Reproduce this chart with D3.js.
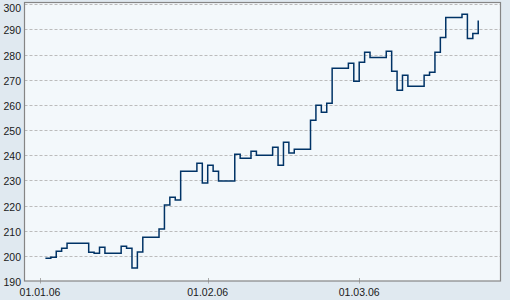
<!DOCTYPE html>
<html><head><meta charset="utf-8">
<script src="https://cdn.jsdelivr.net/npm/d3@7"></script>
<style>
html,body{margin:0;padding:0;background:#e0e9f0;}
svg{display:block;}
text{font-family:"Liberation Sans",Arial,sans-serif;font-size:10.5px;fill:#1a1a1a;}
</style></head>
<body>
<svg id="c" width="510" height="300"></svg>
<script>
const dates = ["2006-01-02","2006-01-03","2006-01-04","2006-01-05","2006-01-06",
"2006-01-09","2006-01-10","2006-01-11","2006-01-12","2006-01-13",
"2006-01-16","2006-01-17","2006-01-18","2006-01-19","2006-01-20",
"2006-01-23","2006-01-24","2006-01-25","2006-01-26","2006-01-27",
"2006-01-30","2006-01-31","2006-02-01","2006-02-02","2006-02-03",
"2006-02-06","2006-02-07","2006-02-08","2006-02-09","2006-02-10",
"2006-02-13","2006-02-14","2006-02-15","2006-02-16","2006-02-17",
"2006-02-20","2006-02-21","2006-02-22","2006-02-23","2006-02-24",
"2006-02-27","2006-02-28","2006-03-01","2006-03-02","2006-03-03",
"2006-03-06","2006-03-07","2006-03-08","2006-03-09","2006-03-10",
"2006-03-13","2006-03-14","2006-03-15","2006-03-16","2006-03-17",
"2006-03-20","2006-03-21","2006-03-22","2006-03-23"];
const values = [199.0,199.4,201.8,203.0,205.0,
205.0,201.4,201.0,203.4,201.0,
203.8,203.0,195.2,201.5,207.4,
210.7,220.2,223.3,222.2,233.6,
236.8,229.0,236.0,233.6,229.8,
240.4,238.8,238.8,241.6,240.0,
243.2,236.0,245.2,240.9,242.4,
253.9,259.9,257.1,260.7,274.6,
276.6,269.4,277.0,280.9,278.9,
281.3,273.4,265.8,271.8,267.4,
271.8,273.0,280.9,286.8,294.8,
296.0,286.4,288.4,293.6];
const yTicks = [190,200,210,220,230,240,250,260,270,280,290,300];
const xTicks = ["2006-01-01","2006-02-01","2006-03-01"];

const svg = d3.select("#c");
const L = 24.5, R = 500.5, T = 2.5, B = 281;
const parse = d3.utcParse("%Y-%m-%d");
const fmt = d3.utcFormat("%d.%m.%y");
const x = d3.scaleUtc().domain([parse("2006-01-01"), parse("2006-03-01")]).range([40, 359.2]);
const y = d3.scaleLinear().domain([190, 300]).range([281, 4.3]);

svg.append("rect").attr("x",0).attr("y",0).attr("width",510).attr("height",300).attr("fill","#e0e9f0");
svg.append("rect").attr("x",L).attr("y",T).attr("width",R-L).attr("height",B-T).attr("fill","#f3f8fb");

// gridlines
svg.append("g").selectAll("line").data(yTicks.filter(v=>v>190)).join("line")
  .attr("x1",L).attr("x2",R)
  .attr("y1",d=>Math.round(y(d))+0.5).attr("y2",d=>Math.round(y(d))+0.5)
  .attr("stroke","#bcbcbc").attr("stroke-width",1).attr("stroke-dasharray","3,2");

// x ticks
svg.append("g").selectAll("line").data(xTicks).join("line")
  .attr("x1",d=>Math.round(x(parse(d)))+0.5).attr("x2",d=>Math.round(x(parse(d)))+0.5)
  .attr("y1",B-3).attr("y2",B+2.5).attr("stroke","#aaaaaa").attr("stroke-width",1);

// border
svg.append("rect").attr("x",L).attr("y",T).attr("width",R-L).attr("height",B-T)
  .attr("fill","none").attr("stroke","#858585").attr("stroke-width",1.2);

// line
const line = d3.line().x((d,i)=>x(parse(dates[i]))).y(d=>y(d)).curve(d3.curveStepAfter);
svg.append("path").datum(values).attr("d",line).attr("fill","none")
  .attr("stroke","#003366").attr("stroke-width",1.5);

// y labels
svg.append("g").selectAll("text").data(yTicks).join("text")
  .attr("x",21).attr("y",d=>Math.max(7.5, y(d)+1)).attr("text-anchor","end").attr("dominant-baseline","central")
  .text(d=>d);

// x labels
svg.append("g").selectAll("text").data(xTicks).join("text")
  .attr("x",d=>x(parse(d))).attr("y",296).attr("text-anchor","middle")
  .text(d=>fmt(parse(d)));
</script>
</body></html>
